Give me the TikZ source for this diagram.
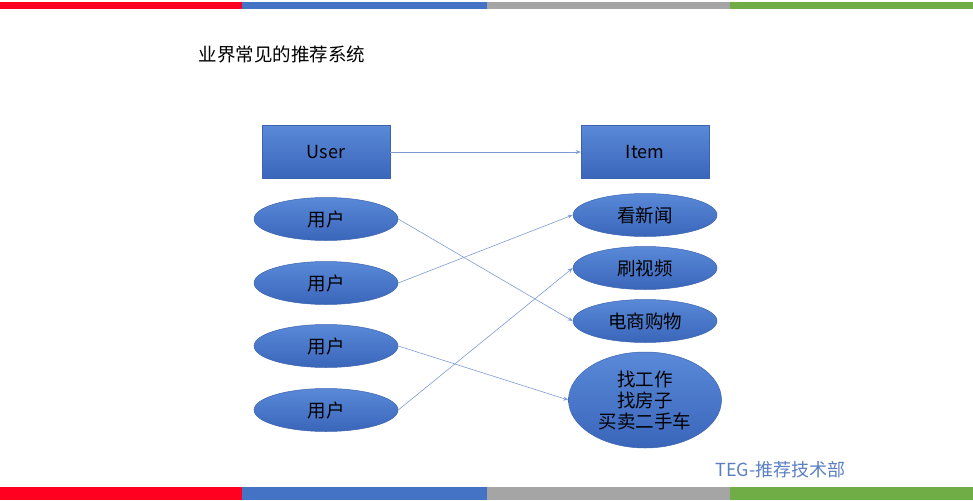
\documentclass[tikz,border=0pt]{standalone}
\usepackage{fontspec}
\setmainfont{Noto Sans CJK SC}
\usepackage{tikz}
\usetikzlibrary{shapes.geometric, arrows.meta, positioning}
\definecolor{barred}{HTML}{FF0020}
\definecolor{barblue}{HTML}{4472C4}
\definecolor{bargray}{HTML}{A5A5A5}
\definecolor{bargreen}{HTML}{70AD47}
\definecolor{boxtop}{HTML}{5A89D8}
\definecolor{boxbottom}{HTML}{3A66BA}
\definecolor{boxline}{HTML}{3C64AE}
\definecolor{linkblue}{HTML}{7F9AD2}
\definecolor{footblue}{HTML}{5A7FC2}

\begin{document}
\begin{tikzpicture}[
    x=1pt, y=-1pt,
    entity/.style={rectangle, draw=boxline, line width=0.5pt, top color=boxtop, bottom color=boxbottom,
        minimum width=128pt, minimum height=53pt, inner sep=0pt, font=\fontsize{18}{21}\selectfont},
    bubble/.style={ellipse, draw=boxline, line width=0.5pt, top color=boxtop, bottom color=boxbottom,
        minimum width=144pt, minimum height=#1, inner sep=0pt, align=center, font=\fontsize{18.5}{21}\selectfont},
    bubble/.default=43pt,
    link/.style={-{Stealth[length=5pt, width=4pt]}, line width=0.6pt, color=linkblue}
]
\useasboundingbox (0,0) rectangle (973,500);

% Colour bars, top and bottom
\fill[barred] (0,2) rectangle (242,9);
\fill[barblue] (242,2) rectangle (487,9);
\fill[bargray] (487,2) rectangle (730,9);
\fill[bargreen] (730,2) rectangle (973,9);
\fill[barred] (0,487) rectangle (242,500);
\fill[barblue] (242,487) rectangle (487,500);
\fill[bargray] (487,487) rectangle (730,500);
\fill[bargreen] (730,487) rectangle (973,500);

% Title
\node[anchor=west, font=\fontsize{18.5}{21}\selectfont] (title) at (195,54) {业界常见的推荐系统};

% Headers
\node[entity] (user) at (326,152) {User};
\node[entity] (item) at (645,152) {Item};

% Users
\node[bubble] (u1) at (326,219) {用户};
\node[bubble] (u2) at (326,283) {用户};
\node[bubble] (u3) at (326,346) {用户};
\node[bubble] (u4) at (326,410) {用户};

% Items
\node[bubble] (i1) at (645,215) {看新闻};
\node[bubble] (i2) at (645,268) {刷视频};
\node[bubble] (i3) at (645,321) {电商购物};
\node[bubble=96pt, minimum width=153pt] (i4) at (645,400) {找工作\\找房子\\买卖二手车};

% Links
\draw[link] (user) -- (item);
\draw[link] (u1.east) -- (i3.west);
\draw[link] (u2.east) -- (i1.west);
\draw[link] (u3.east) -- (i4.west);
\draw[link] (u4.east) -- (i2.west);

% Footer
\node[anchor=west, font=\fontsize{18}{20}\selectfont, color=footblue] (foot) at (712,470) {TEG-推荐技术部};

\end{tikzpicture}
\end{document}
